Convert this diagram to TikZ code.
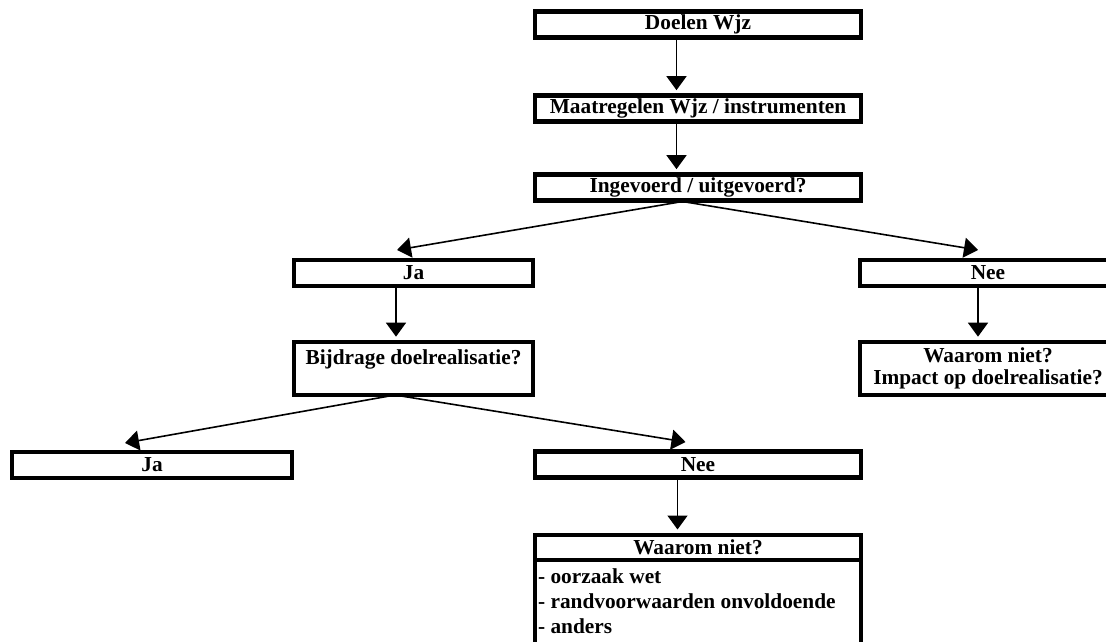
\documentclass[tikz,border=0pt]{standalone}
\usepackage{fontspec}
\setmainfont{Liberation Serif}
\usetikzlibrary{arrows.meta,calc}

\begin{document}
\begin{tikzpicture}[x=0.75pt,y=0.75pt,yscale=-1,xscale=1,
  box/.style={draw, rectangle, line width=3.2pt, inner sep=0pt, outer sep=0pt,
    minimum height=19.5pt, align=center, font=\fontsize{16}{16.5}\selectfont\bfseries},
  arr/.style={line width=1.2pt, shorten >=4pt, -{Triangle[length=10.5pt,width=15pt]}},
  ]
\useasboundingbox (0,0) rectangle (1106,642);
\clip (0,0) rectangle (1106,642);

%Shape: Rectangle (top column)
\node[box, minimum width=244pt] (doel) at (698,24.5) {Doelen Wjz};
\node[box, minimum width=244pt] (maat) at (698,108.5) {Maatregelen Wjz / instrumenten};
\node[box, minimum width=244pt] (ingev) at (698,187.5) {Ingevoerd / uitgevoerd?};
%Shape: Rectangle (second row)
\node[box, minimum width=179pt] (ja1) at (413.5,273) {Ja};
\node[box, minimum width=192pt] (nee1) at (988,273) {Nee};
\node[box, minimum width=179pt, minimum height=39.75pt] (bijdr) at (413.5,368.5) {Bijdrage doelrealisatie?\\\mbox{}};
\node[box, minimum width=192pt, minimum height=39.75pt] (impact) at (988,368.5) {Waarom niet?\\Impact op doelrealisatie?};
%Shape: Rectangle (third row)
\node[box, minimum width=210pt] (ja2) at (152,465) {Ja};
\node[box, minimum width=244pt] (nee2) at (698,464.5) {Nee};
%Shape: Rectangle (reasons)
\node[box, minimum width=244pt, minimum height=19pt] (waarom) at (698,547.5) {Waarom niet?};
\node[box, minimum width=244pt, minimum height=100pt, anchor=north] (wbody) at (waarom.south) {};
% Text Node
\node[anchor=north west, align=left, inner sep=0pt, font=\fontsize{16}{19}\selectfont\bfseries] (wlist) at ($(wbody.north west)+(2.5,8)$) {- oorzaak wet\\- randvoorwaarden onvoldoende\\- anders};

% Connectors
\draw[arr] ($(doel.south)+(-21.5,0)$) -- ($(maat.north)+(-21.5,0)$);
\draw[arr] ($(maat.south)+(-21.5,0)$) -- ($(ingev.north)+(-21.5,0)$);
\draw[arr, shorten >=0pt] ($(ingev.south)+(-15.5,1)$) -- ($(ja1.north)+(-16.5,-10)$);
\draw[arr, shorten >=0pt] ($(ingev.south)+(-15.5,1)$) -- ($(nee1.north)+(-10,-10)$);
\draw[arr] ($(ja1.south)+(-17.5,0)$) -- ($(bijdr.north)+(-17.5,0)$);
\draw[arr] ($(nee1.south)+(-10,0)$) -- ($(impact.north)+(-10,0)$);
\draw[arr, shorten >=0pt] ($(bijdr.south)+(-18.5,0)$) -- ($(ja2.north)+(-27,-9)$);
\draw[arr, shorten >=0pt] ($(bijdr.south)+(-18.5,0)$) -- ($(nee2.north)+(-12.5,-9.5)$);
\draw[arr] ($(nee2.south)+(-20.5,0)$) -- ($(waarom.north)+(-20.5,0)$);

\end{tikzpicture}
\end{document}
